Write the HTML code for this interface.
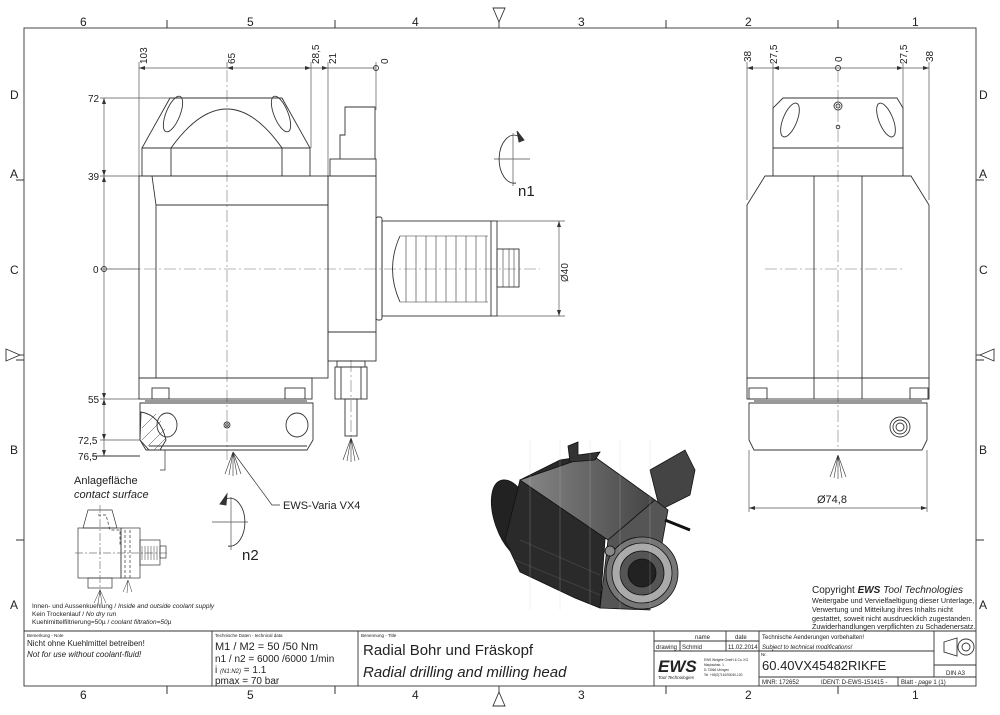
<!DOCTYPE html>
<html><head><meta charset="utf-8"><style>
html,body{margin:0;padding:0;background:#fff}
svg{display:block}
text{font-family:"Liberation Sans",sans-serif;fill:#222}
</style></head><body>
<svg width="1000" height="715" viewBox="0 0 1000 715" xmlns="http://www.w3.org/2000/svg">
<defs>
<linearGradient id="g2" x1="0" y1="0" x2="1" y2="0"><stop offset="0" stop-color="#888"/><stop offset="1" stop-color="#444"/></linearGradient>
</defs>
<g fill="none" stroke="#333" stroke-width="0.9">
<rect x="24" y="28" width="952" height="658"/>
<g stroke-width="1">
<line x1="167" y1="20" x2="167" y2="28"/><line x1="335" y1="20" x2="335" y2="28"/><line x1="666" y1="20" x2="666" y2="28"/><line x1="838" y1="20" x2="838" y2="28"/>
<line x1="167" y1="686" x2="167" y2="694"/><line x1="335" y1="686" x2="335" y2="694"/><line x1="666" y1="686" x2="666" y2="694"/><line x1="838" y1="686" x2="838" y2="694"/>
<line x1="16" y1="180" x2="24" y2="180"/><line x1="16" y1="360" x2="24" y2="360"/><line x1="16" y1="540" x2="24" y2="540"/>
<line x1="976" y1="180" x2="984" y2="180"/><line x1="976" y1="360" x2="984" y2="360"/><line x1="976" y1="540" x2="984" y2="540"/>
</g>
<path d="M493 8 L505 8 L499 22 Z"/><line x1="499" y1="22" x2="499" y2="28"/>
<path d="M493 706 L505 706 L499 692 Z"/><line x1="499" y1="686" x2="499" y2="692"/>
<path d="M6 349 L6 361 L20 355 Z"/><line x1="20" y1="355" x2="24" y2="355"/>
<path d="M994 349 L994 361 L980 355 Z"/><line x1="976" y1="355" x2="980" y2="355"/>

<line x1="24" y1="631" x2="976" y2="631"/>
<line x1="212" y1="631" x2="212" y2="686"/><line x1="358" y1="631" x2="358" y2="686"/>
<line x1="654" y1="631" x2="654" y2="686"/><line x1="759" y1="631" x2="759" y2="686"/>
<line x1="654" y1="641" x2="759" y2="641"/><line x1="654" y1="651" x2="759" y2="651"/>
<line x1="680" y1="641" x2="680" y2="651"/><line x1="726" y1="631" x2="726" y2="651"/>
<line x1="759" y1="651" x2="934" y2="651"/><line x1="934" y1="631" x2="934" y2="677"/>
<line x1="934" y1="665" x2="976" y2="665"/><line x1="759" y1="677" x2="976" y2="677"/>
<line x1="898" y1="677" x2="898" y2="686"/>
<path d="M944 642 L957 638 L957 656 L944 652 Z"/>
<circle cx="966" cy="647" r="8"/><circle cx="966" cy="647" r="4"/>

<g stroke="#555" stroke-width="0.7">
<line x1="139" y1="68" x2="376" y2="68"/>
<line x1="139" y1="62" x2="139" y2="176"/><line x1="227" y1="62" x2="227" y2="68"/>
<line x1="311" y1="62" x2="311" y2="148"/><line x1="328" y1="62" x2="328" y2="176"/>
<line x1="376" y1="62" x2="376" y2="110"/>
<line x1="104" y1="98" x2="104" y2="456"/>
<line x1="100" y1="98" x2="225" y2="98"/><line x1="100" y1="176" x2="139" y2="176"/>
<line x1="100" y1="269" x2="139" y2="269"/><line x1="100" y1="399" x2="139" y2="399"/>
<line x1="100" y1="440" x2="140" y2="440"/><line x1="100" y1="456" x2="140" y2="456"/>
<line x1="497" y1="221" x2="565" y2="221"/><line x1="497" y1="316" x2="565" y2="316"/>
<line x1="559" y1="221" x2="559" y2="316"/>
<line x1="747" y1="68" x2="929" y2="68"/>
<line x1="747" y1="62" x2="747" y2="200"/><line x1="773" y1="62" x2="773" y2="110"/>
<line x1="903" y1="62" x2="903" y2="110"/><line x1="929" y1="62" x2="929" y2="200"/>
<line x1="749" y1="508" x2="927" y2="508"/><line x1="749" y1="450" x2="749" y2="512"/><line x1="927" y1="450" x2="927" y2="512"/>
</g>
<g fill="#333" stroke="none">
<path d="M139 68 l6 -2 v4z"/><path d="M227 68 l6 -2 v4z"/><path d="M311 68 l-6 -2 v4z"/><path d="M328 68 l-6 -2 v4z"/>
<path d="M104 98 l-2 6 h4z"/><path d="M104 176 l-2 -6 h4z"/><path d="M104 176 l-2 6 h4z"/><path d="M104 399 l-2 -6 h4z"/><path d="M104 399 l-2 6 h4z"/><path d="M104 440 l-2 -6 h4z"/><path d="M104 456 l-2 -6 h4z"/>
<path d="M559 221 l-2 6 h4z"/><path d="M559 316 l-2 -6 h4z"/>
<path d="M747 68 l6 -2 v4z"/><path d="M773 68 l6 -2 v4z"/><path d="M903 68 l-6 -2 v4z"/><path d="M929 68 l-6 -2 v4z"/>
<path d="M749 508 l6 -2 v4z"/><path d="M927 508 l-6 -2 v4z"/>
</g>
<circle cx="376" cy="68" r="2.5"/><circle cx="104" cy="269" r="2.5"/><circle cx="838" cy="68" r="2.5"/>

<g stroke="#777" stroke-width="0.6" stroke-dasharray="12 3 2 3">
<line x1="227" y1="70" x2="227" y2="460"/>
<line x1="104" y1="269" x2="540" y2="269"/>
<line x1="838" y1="70" x2="838" y2="450"/>
<line x1="765" y1="269" x2="905" y2="269"/>
<line x1="351" y1="360" x2="351" y2="440"/>
</g>

<path d="M170 98 L282 98 L310 148 L142 148 Z"/>
<rect x="142" y="148" width="168" height="28"/>
<line x1="171" y1="148" x2="171" y2="176"/><line x1="282" y1="148" x2="282" y2="176"/>
<path d="M171 148 Q227 70 282 148"/>
<ellipse cx="173" cy="114" rx="7" ry="19" transform="rotate(22 173 114)"/>
<ellipse cx="281" cy="114" rx="7" ry="19" transform="rotate(-22 281 114)"/>
<rect x="139" y="176" width="189" height="202"/>
<path d="M152 176 L156 205 L156 378"/><line x1="156" y1="205" x2="328" y2="205"/>
<rect x="328" y="176" width="48" height="185"/><line x1="328" y1="332" x2="376" y2="332"/>
<rect x="330" y="159" width="46" height="17"/>
<path d="M340 159 L340 135 L345 135 L345 107 L375 107 L375 159"/>
<rect x="139" y="378" width="173" height="21"/>
<rect x="152" y="388" width="17" height="11"/><rect x="285" y="388" width="20" height="11"/>
<line x1="145" y1="401" x2="307" y2="401"/>
<path d="M140 403 L313 403 L313 440 L307 450 L149 450 L140 440 Z"/>
<line x1="149" y1="446" x2="307" y2="446"/>
<path d="M141 412 Q160 415 166 440 L160 450 L146 450 L140 440 Z"/>
<g stroke-width="0.5"><line x1="142" y1="428" x2="156" y2="414"/><line x1="142" y1="440" x2="161" y2="421"/><line x1="148" y1="446" x2="165" y2="429"/><line x1="154" y1="450" x2="166" y2="438"/></g>
<ellipse cx="167" cy="425" rx="10" ry="12"/><ellipse cx="297" cy="425" rx="11" ry="12"/>
<circle cx="227" cy="425" r="3"/><circle cx="227" cy="425" r="1.3"/>
<rect x="376" y="217" width="6" height="103" rx="2"/>
<rect x="382" y="221" width="115" height="95"/>
<line x1="491" y1="221" x2="491" y2="316"/>
<rect x="497" y="249" width="22" height="38"/>
<path d="M400 236 Q385 269 400 302"/>
<g stroke-width="0.6">
<line x1="400" y1="236" x2="488" y2="236"/><line x1="400" y1="302" x2="488" y2="302"/>
<line x1="406" y1="236" x2="406" y2="302"/><line x1="416" y1="236" x2="416" y2="302"/><line x1="426" y1="236" x2="426" y2="302"/><line x1="436" y1="236" x2="436" y2="302"/><line x1="446" y1="236" x2="446" y2="302"/><line x1="456" y1="236" x2="456" y2="302"/><line x1="466" y1="236" x2="466" y2="302"/><line x1="476" y1="236" x2="476" y2="302"/><line x1="486" y1="236" x2="486" y2="302"/>
<line x1="503" y1="249" x2="503" y2="287"/><line x1="509" y1="249" x2="509" y2="287"/><line x1="514" y1="249" x2="514" y2="287"/>
</g>
<rect x="337" y="361" width="28" height="6"/>
<rect x="335" y="367" width="32" height="32"/><line x1="341" y1="367" x2="341" y2="399"/><line x1="361" y1="367" x2="361" y2="399"/>
<rect x="345" y="399" width="12" height="37"/>
<g stroke-width="0.6">
<path d="M351 438 L343 460 M351 438 L347 461 M351 438 L351 462 M351 438 L355 461 M351 438 L359 460"/>
<path d="M233 452 L225 474 M233 452 L229 475 M233 452 L233 476 M233 452 L237 475 M233 452 L241 474"/>
<path d="M838 455 L830 477 M838 455 L834 478 M838 455 L838 479 M838 455 L842 478 M838 455 L846 477"/>
</g>
<path d="M233 452 L272 505 L280 505" stroke-width="0.7"/>
<path d="M140 456 L92 456"/>
<path d="M165 450 L165 470 L160 470" stroke-width="0.7"/>
<!-- rotation symbols -->
<line x1="494" y1="159" x2="530" y2="159" stroke="#777"/><line x1="513" y1="133" x2="513" y2="186" stroke="#777"/>
<path d="M518 136 A15 24 0 1 0 516 183"/>
<path d="M517 131 L524 140 L519 142 Z" fill="#333"/>
<line x1="212" y1="522" x2="248" y2="522" stroke="#777"/><line x1="231" y1="497" x2="231" y2="550" stroke="#777"/>
<path d="M226 499 A15 24 0 1 1 228 546"/>
<path d="M227 494 L220 504 L226 505 Z" fill="#333"/>

<path d="M783 98 L897 98 L903 108 L903 148 L773 148 L773 108 Z"/>
<rect x="773" y="148" width="130" height="28"/>
<ellipse cx="790" cy="120" rx="7" ry="18" transform="rotate(22 790 120)"/>
<ellipse cx="886" cy="120" rx="7" ry="18" transform="rotate(-22 886 120)"/>
<circle cx="838" cy="106" r="4"/><circle cx="838" cy="106" r="2"/><circle cx="838" cy="127" r="1.8"/>
<path d="M765 176 L911 176 L929 205 L929 378 L747 378 L747 205 Z"/>
<line x1="814" y1="176" x2="814" y2="399"/><line x1="862" y1="176" x2="862" y2="399"/>
<rect x="747" y="378" width="182" height="21"/>
<rect x="749" y="388" width="18" height="11"/><rect x="910" y="388" width="18" height="11"/>
<line x1="754" y1="401" x2="922" y2="401"/>
<path d="M749 403 L927 403 L927 440 L922 450 L754 450 L749 440 Z"/>
<circle cx="900" cy="427" r="10"/><circle cx="900" cy="427" r="7"/><circle cx="900" cy="427" r="4"/>

<g stroke-width="0.7">
<path d="M88 510 L112 510 L117 528 L83 528 Z"/>
<rect x="78" y="528" width="43" height="50"/><rect x="121" y="528" width="19" height="50"/>
<rect x="140" y="540" width="20" height="25"/><rect x="160" y="546" width="6" height="12"/>
<rect x="88" y="578" width="24" height="10"/>
<path d="M100 505 L100 595 M75 553 L168 553" stroke="#777" stroke-dasharray="8 2 2 2"/>
<path d="M98 515 L106 515 L110 530 L120 530 L120 545 M125 530 L125 578 M130 530 L130 578" stroke-dasharray="3 2"/>
<path d="M142 546 v14 M145 546 v14 M148 546 v14 M151 546 v14 M154 546 v14 M157 546 v14" stroke-width="0.5"/>
<path d="M100 590 L94 603 M100 590 L98 604 M100 590 L102 604 M100 590 L106 603 M128 580 L123 592 M128 580 L127 593 M128 580 L132 592" stroke-width="0.5"/>
</g>
</g>

<g stroke="#111" stroke-width="0.8">
<ellipse cx="515" cy="520" rx="20" ry="42" fill="#222" transform="rotate(-20 515 520)"/>
<path d="M520 480 L560 460 L592 455 L612 470 L605 540 L600 608 L575 598 L520 572 L505 540 Z" fill="#2a2a2a"/>
<path d="M520 480 L592 455 L655 500 L608 540 Z" fill="url(#g2)"/>
<path d="M568 446 L578 442 L578 455 L600 452 L595 460 L570 462 Z" fill="#333"/>
<path d="M650 470 L685 450 L695 470 L690 495 L660 510 Z" fill="#444"/>
<path d="M608 540 L655 500 L668 510 L650 610 L600 608 Z" fill="#555"/>
<circle cx="642" cy="573" r="36" fill="#777"/>
<circle cx="642" cy="573" r="30" fill="#aaa"/>
<circle cx="642" cy="573" r="22" fill="#555"/>
<circle cx="642" cy="573" r="14" fill="#222"/>
<circle cx="610" cy="551" r="5" fill="#888"/>
<path d="M665 520 L690 530" stroke-width="3"/>
<path d="M520 540 L600 575 M515 560 L600 595" stroke="#444"/>
</g>
<g stroke="#ccc" stroke-width="0.4" opacity="0.6">
<line x1="530" y1="440" x2="530" y2="610"/><line x1="560" y1="440" x2="560" y2="610"/><line x1="590" y1="440" x2="590" y2="610"/><line x1="620" y1="440" x2="620" y2="610"/><line x1="650" y1="440" x2="650" y2="610"/>
</g>

<g font-size="12">
<text x="80" y="26">6</text><text x="247" y="26">5</text><text x="412" y="26">4</text><text x="578" y="26">3</text><text x="745" y="26">2</text><text x="912" y="26">1</text>
<text x="80" y="699">6</text><text x="247" y="699">5</text><text x="412" y="699">4</text><text x="578" y="699">3</text><text x="745" y="699">2</text><text x="912" y="699">1</text>
<text x="10" y="99">D</text><text x="10" y="178">A</text><text x="10" y="274">C</text><text x="10" y="454">B</text><text x="10" y="609">A</text>
<text x="979" y="99">D</text><text x="979" y="178">A</text><text x="979" y="274">C</text><text x="979" y="454">B</text><text x="979" y="609">A</text>
</g>
<g font-size="10">
<text x="88" y="102">72</text><text x="88" y="180">39</text><text x="93" y="273">0</text><text x="88" y="403">55</text>
<text x="78" y="444">72,5</text><text x="78" y="460">76,5</text>
<text transform="translate(147 64) rotate(-90)">103</text>
<text transform="translate(235 64) rotate(-90)">65</text>
<text transform="translate(319 64) rotate(-90)">28,5</text>
<text transform="translate(336 64) rotate(-90)">21</text>
<text transform="translate(388 64) rotate(-90)">0</text>
<text transform="translate(568 282) rotate(-90)">Ø40</text>
<text transform="translate(751 62) rotate(-90)">38</text>
<text transform="translate(777 64) rotate(-90)">27,5</text>
<text transform="translate(842 62) rotate(-90)">0</text>
<text transform="translate(907 64) rotate(-90)">27,5</text>
<text transform="translate(933 62) rotate(-90)">38</text>
<text x="817" y="503" font-size="11">Ø74,8</text>
<text x="74" y="484" font-size="11">Anlagefläche</text>
<text x="74" y="498" font-size="11" font-style="italic">contact surface</text>
<text x="283" y="509" font-size="11">EWS-Varia VX4</text>
</g>
<text x="518" y="196" font-size="15">n1</text>
<text x="242" y="560" font-size="15">n2</text>
<g font-size="6.5">
<text x="32" y="608">Innen- und Aussenkuehlung / <tspan font-style="italic">Inside and outside coolant supply</tspan></text>
<text x="32" y="616">Kein Trockenlauf / <tspan font-style="italic">No dry run</tspan></text>
<text x="32" y="624">Kuehlmittelfiltrierung=50µ / <tspan font-style="italic">coolant filtration=50µ</tspan></text>
</g>
<g font-size="4.5"><text x="27" y="637">Bemerkung - Note</text><text x="215" y="637">Technische Daten - technical data</text><text x="361" y="637">Benennung - Title</text><text x="761" y="656">Nr.</text></g>
<text x="27" y="646" font-size="8">Nicht ohne Kuehlmittel betreiben!</text>
<text x="27" y="657" font-size="8" font-style="italic">Not for use without coolant-fluid!</text>
<g font-size="11">
<text x="215" y="650">M1 / M2 = 50  /50  Nm</text>
<text x="215" y="662" font-size="10">n1 / n2 = 6000 /6000  1/min</text>
<text x="215" y="673" font-size="10">i  <tspan font-size="6" font-style="italic">(N1:N2)</tspan> = 1.1</text>
<text x="215" y="684" font-size="10">pmax    = 70  bar</text>
</g>
<text x="363" y="655" font-size="15">Radial Bohr und Fräskopf</text>
<text x="363" y="677" font-size="15" font-style="italic">Radial drilling and milling head</text>
<g font-size="6">
<text x="695" y="639">name</text><text x="735" y="639">date</text>
<text x="656" y="649">drawing</text><text x="682" y="649">Schmid</text><text x="728" y="649">11.02.2014</text>
<text x="762" y="639">Technische Aenderungen vorbehalten!</text>
<text x="762" y="649" font-style="italic">Subject to technical modifications!</text>
<text x="762" y="684">MNR: 172652</text><text x="821" y="684">IDENT: D-EWS-151415 -</text>
<text x="901" y="684">Blatt - <tspan font-style="italic">page</tspan>  1 (1)</text>
<text x="946" y="675">DIN A3</text>
</g>
<text x="762" y="670" font-size="13">60.40VX45482RIKFE</text>
<text x="658" y="672" font-size="17" font-weight="bold" font-style="italic" fill="#000">EWS</text>
<text x="658" y="679" font-size="4.5" font-style="italic">Tool Technologies</text>
<g font-size="3.2"><text x="704" y="661">EWS Weigele GmbH &amp; Co. KG</text><text x="704" y="666">Maybachstr. 1</text><text x="704" y="671">D-73066 Uhingen</text><text x="704" y="676">Tel. +49(0)7161/93040-100</text></g>
<text x="812" y="593" font-size="10">Copyright <tspan font-weight="bold" font-style="italic">EWS</tspan> <tspan font-style="italic">Tool Technologies</tspan></text>
<g font-size="7.2"><text x="812" y="603">Weitergabe und Vervielfaeltigung dieser Unterlage,</text><text x="812" y="612">Verwertung und Mitteilung ihres Inhalts nicht</text><text x="812" y="621">gestattet, soweit nicht ausdruecklich zugestanden.</text><text x="812" y="629">Zuwiderhandlungen verpflichten zu Schadenersatz.</text></g>
</svg>
</body></html>
